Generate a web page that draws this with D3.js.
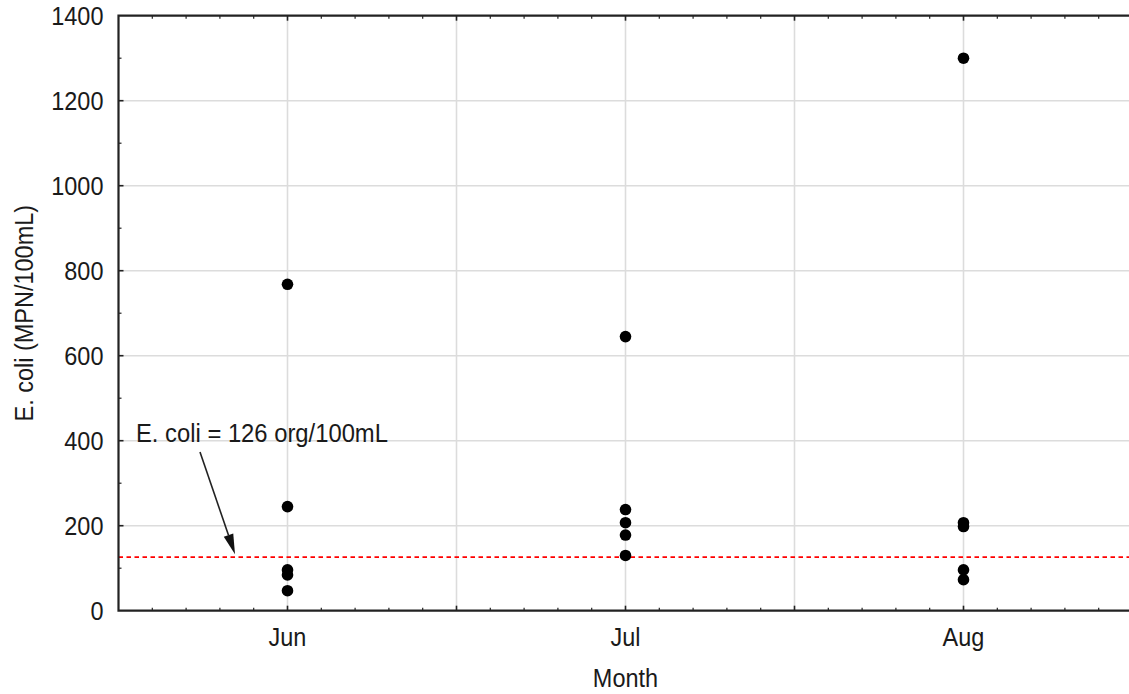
<!DOCTYPE html>
<html>
<head>
<meta charset="utf-8">
<script src="https://cdn.jsdelivr.net/npm/d3@7"></script>
<style>
  html, body { margin: 0; padding: 0; background: #fff; }
  svg { display: block; }
  text { font-family: "Liberation Sans", Arial, sans-serif; fill: #1a1a1a; }
</style>
</head>
<body>
<svg id="chart" width="1129" height="694"></svg>
<script>
// Monthly E. coli samples (MPN/100mL)
const months = ["Jun", "Jul", "Aug"];
const junValues = [768, 245, 96, 84, 47];
const julValues = [645, 238, 207, 178, 130];
const augValues = [1300, 207, 198, 96, 73];
const yTicks = [0, 200, 400, 600, 800, 1000, 1200, 1400];
const threshold = 126;
const thresholdLabel = "E. coli = 126 org/100mL";

const seriesByMonth = [junValues, julValues, augValues];
const points = [];
seriesByMonth.forEach((vals, i) => vals.forEach(v => points.push({ m: i + 1, v })));

const svg = d3.select("#chart");
const plotLeft = 118.5, plotTop = 15.7, plotBottom = 610.7;
const x = d3.scaleLinear().domain([0.5, 3.5]).range([plotLeft, plotLeft + 3 * 338]);
const y = d3.scaleLinear().domain([0, 1400]).range([plotBottom, plotTop]);
const plotRight = x(3.5);

const FONT = 23.5, STRETCH = 1.12;

// text with slightly tall glyphs
function label(parent, tx, ty, str, opts = {}) {
  const size = opts.size || FONT, sy = opts.sy || STRETCH, rot = opts.rotate || 0;
  return parent.append("text")
    .attr("transform", `translate(${tx},${ty}) rotate(${rot}) scale(1,${sy})`)
    .attr("text-anchor", opts.anchor || "start")
    .attr("font-size", size)
    .text(str);
}

const grid = svg.append("g");
// vertical grid at each month and half-way between
d3.range(1, 3.01, 0.5).forEach(t => {
  grid.append("line").attr("x1", x(t)).attr("x2", x(t)).attr("y1", plotTop).attr("y2", plotBottom)
    .attr("stroke", "#dcdcdc").attr("stroke-width", 1.6);
});
yTicks.slice(1, -1).forEach(t => {
  grid.append("line").attr("x1", plotLeft).attr("x2", plotRight).attr("y1", y(t)).attr("y2", y(t))
    .attr("stroke", "#dcdcdc").attr("stroke-width", 1.6);
});

// threshold line
svg.append("line")
  .attr("x1", plotLeft).attr("x2", plotRight).attr("y1", y(threshold)).attr("y2", y(threshold))
  .attr("stroke", "#ff0000").attr("stroke-width", 1.6).attr("stroke-dasharray", "4.5,3.5");

// frame ticks (inside)
const tickG = svg.append("g").attr("stroke", "#222");
d3.range(0.6, 3.45, 0.1).forEach(t => {
  const major = Math.abs(t * 2 - Math.round(t * 2)) < 1e-6;
  const len = major ? 5 : 3;
  tickG.append("line").attr("x1", x(t)).attr("x2", x(t)).attr("y1", plotBottom).attr("y2", plotBottom - len).attr("stroke-width", major ? 1.6 : 1.2);
  tickG.append("line").attr("x1", x(t)).attr("x2", x(t)).attr("y1", plotTop).attr("y2", plotTop + len).attr("stroke-width", major ? 1.6 : 1.2);
});
d3.range(100, 1400, 100).forEach(t => {
  const major = t % 200 === 0;
  tickG.append("line").attr("x1", plotLeft).attr("x2", plotLeft + (major ? 5 : 3))
    .attr("y1", y(t)).attr("y2", y(t)).attr("stroke-width", major ? 1.6 : 1.2);
});

// axes frame
svg.append("path")
  .attr("d", `M${plotRight},${plotTop}H${plotLeft}V${plotBottom}H${plotRight}`)
  .attr("fill", "none").attr("stroke", "#222").attr("stroke-width", 2.2);

// y tick labels
const yLab = svg.append("g");
yTicks.forEach(t => label(yLab, plotLeft - 15, y(t) + 9, t, { anchor: "end" }));

// x tick labels
const xLab = svg.append("g");
months.forEach((m, i) => label(xLab, x(i + 1), 646, m, { anchor: "middle" }));

// axis titles
label(svg, x(2), 687, "Month", { anchor: "middle" });
label(svg, 33, (plotTop + plotBottom) / 2, "E. coli (MPN/100mL)", { anchor: "middle", rotate: -90 });

// data points
svg.append("g").selectAll("circle").data(points).join("circle")
  .attr("cx", d => x(d.m)).attr("cy", d => y(d.v)).attr("r", 5.8).attr("fill", "#000");

// annotation
label(svg, 136, 442, thresholdLabel, { size: 23.8, sy: 1.05 });
const ax0 = 200, ay0 = 452, ax1 = 235, ay1 = y(threshold) - 3;
const ang = Math.atan2(ay1 - ay0, ax1 - ax0);
const hl = 20, hw = 5;
const bx = ax1 - hl * Math.cos(ang), by = ay1 - hl * Math.sin(ang);
svg.append("line").attr("x1", ax0).attr("y1", ay0).attr("x2", bx).attr("y2", by)
  .attr("stroke", "#222").attr("stroke-width", 1.6);
svg.append("path")
  .attr("d", `M${ax1},${ay1}L${bx + hw * Math.sin(ang)},${by - hw * Math.cos(ang)}L${bx - hw * Math.sin(ang)},${by + hw * Math.cos(ang)}Z`)
  .attr("fill", "#111");
</script>
</body>
</html>
